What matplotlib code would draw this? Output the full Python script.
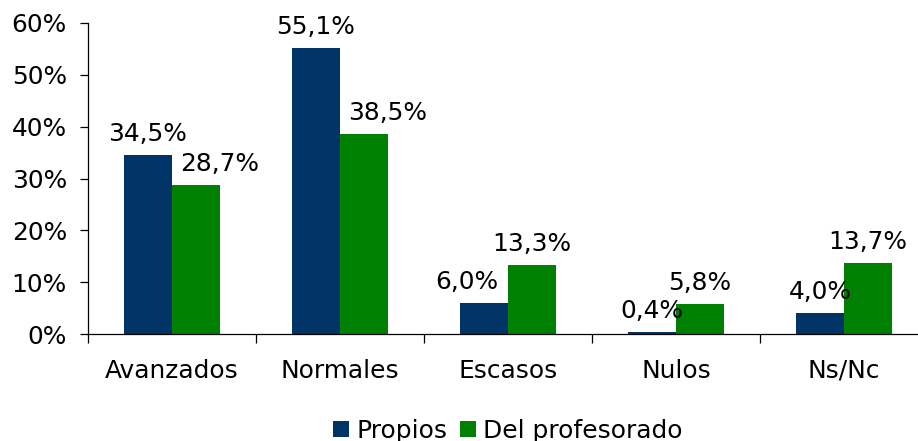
import matplotlib
matplotlib.use("Agg")
import matplotlib.pyplot as plt
import numpy as np
from matplotlib.ticker import FixedLocator, FuncFormatter
from matplotlib.patches import Patch

# Data
categories = ["Avanzados", "Normales", "Escasos", "Nulos", "Ns/Nc"]
propios = [34.5, 55.1, 6.0, 0.4, 4.0]
profesorado = [28.7, 38.5, 13.3, 5.8, 13.7]
series_names = ["Propios", "Del profesorado"]
y_ticks = [0, 10, 20, 30, 40, 50, 60]

# Styling
BLUE = "#003366"
GREEN = "#008000"
FS = 17.9
plt.rcParams["font.family"] = ["DejaVu Sans"]

DPI = 100
fig = plt.figure(figsize=(9.18, 4.41), dpi=DPI)
ax = fig.add_axes([88 / 918, 107 / 441, 840 / 918, 311 / 441])

x = np.arange(len(categories))
w = 0.286
b1 = ax.bar(x - w / 2, propios, width=w, color=BLUE, linewidth=0)
b2 = ax.bar(x + w / 2, profesorado, width=w, color=GREEN, linewidth=0)

ax.set_xlim(-0.5, len(categories) - 0.5)
ax.set_ylim(0, 60)

# Data labels (horizontal nudges in pixels where labels would collide)
shift_blue = [0, 0, -17, 0, 0]
shift_green = [24, 24, 0, 0, 0]


def fmt(v):
    return f"{v:.1f}%".replace(".", ",")


for bars, vals, shifts in ((b1, propios, shift_blue), (b2, profesorado, shift_green)):
    for rect, v, s in zip(bars, vals, shifts):
        ax.annotate(fmt(v), (rect.get_x() + rect.get_width() / 2, v),
                    xytext=(s * 72 / DPI, 9 * 72 / DPI), textcoords="offset points",
                    ha="center", va="bottom", fontsize=FS, color="black")

# Axes
for side in ("top", "right"):
    ax.spines[side].set_visible(False)
for side in ("left", "bottom"):
    ax.spines[side].set_linewidth(0.9)
    ax.spines[side].set_color("black")

ax.yaxis.set_major_locator(FixedLocator(y_ticks))
ax.yaxis.set_major_formatter(FuncFormatter(lambda v, p: f"{v:.0f}%"))
ax.tick_params(axis="y", direction="out", length=5.8, width=0.9, pad=9.4,
               labelsize=FS, colors="black")

ax.xaxis.set_major_locator(FixedLocator(np.arange(len(categories) + 1) - 0.5))
ax.xaxis.set_major_formatter(FuncFormatter(lambda v, p: ""))
ax.xaxis.set_minor_locator(FixedLocator(x))
ax.set_xticklabels(categories, minor=True)
ax.tick_params(axis="x", which="major", direction="out", length=6.5, width=0.9)
ax.tick_params(axis="x", which="minor", length=0, pad=18, labelsize=FS)

# Legend
handles = [Patch(facecolor=BLUE, edgecolor="none"), Patch(facecolor=GREEN, edgecolor="none")]
fig.legend(handles, series_names, loc="center", bbox_to_anchor=(508 / 918, 1 - 431 / 441),
           ncol=2, frameon=False, fontsize=FS, handlelength=0.64, handleheight=0.64,
           handletextpad=0.28, columnspacing=0.52, borderpad=0, borderaxespad=0)

fig.savefig("out.png", dpi=DPI)
